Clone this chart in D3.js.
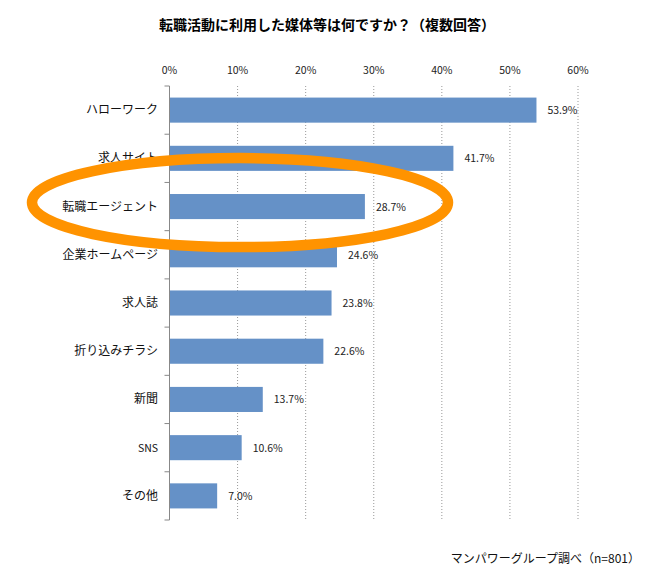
<!DOCTYPE html>
<html><head><meta charset="utf-8">
<script src="https://cdn.jsdelivr.net/npm/d3@7/dist/d3.min.js"></script>
<style>body{margin:0;background:#fff}svg{display:block}text{font-family:"Noto Sans CJK JP","DejaVu Sans",sans-serif}</style>
</head><body><svg id="c" width="656" height="582"></svg>
<script>
const categories = ["ハローワーク","求人サイト","転職エージェント","企業ホームページ","求人誌","折り込みチラシ","新聞","SNS","その他"];
const values = [53.9,41.7,28.7,24.6,23.8,22.6,13.7,10.6,7.0];
const ticks = [0,10,20,30,40,50,60];
const title = "転職活動に利用した媒体等は何ですか？（複数回答）";
const source = "マンパワーグループ調べ（n=801）";

const svg = d3.select("#c");
const x = d3.scaleLinear().domain([0,60]).range([169.5,578]);
const y = d3.scaleBand().domain(categories).range([86,520]).paddingInner(0.48).paddingOuter(0.24);
const band = (520-86)/categories.length;

svg.append("text").attr("x",327).attr("y",30).attr("text-anchor","middle")
  .attr("font-size",14).attr("font-weight","bold").text(title);

// grid
svg.append("g").selectAll("line").data(ticks.filter(t=>t>0)).join("line")
  .attr("x1",d=>x(d)).attr("x2",d=>x(d)).attr("y1",86).attr("y2",520)
  .attr("stroke","#999").attr("stroke-dasharray","1,2");

// top tick labels
svg.append("g").selectAll("text").data(ticks).join("text")
  .attr("x",d=>x(d)).attr("y",74).attr("text-anchor","middle")
  .attr("font-size",10.5).attr("fill","#222").text(d=>d+"%");

// bars
svg.append("g").selectAll("rect").data(values).join("rect")
  .attr("x",x(0)).attr("y",(d,i)=>y(categories[i])).attr("width",d=>x(d)-x(0))
  .attr("height",y.bandwidth()).attr("fill","#6591c7");

// value labels
svg.append("g").selectAll("text").data(values).join("text")
  .attr("x",d=>x(d)+11).attr("y",(d,i)=>y(categories[i])+y.bandwidth()/2+4)
  .attr("font-size",10.5).attr("fill","#222").text(d=>d.toFixed(1)+"%");

// axis line + ticks
svg.append("line").attr("x1",x(0)).attr("x2",x(0)).attr("y1",86).attr("y2",520).attr("stroke","#888");
svg.append("g").selectAll("line").data(d3.range(categories.length+1)).join("line")
  .attr("x1",x(0)-5).attr("x2",x(0)).attr("y1",i=>86+i*band).attr("y2",i=>86+i*band).attr("stroke","#888");

// category labels
svg.append("g").selectAll("text").data(categories).join("text")
  .attr("x",158).attr("y",d=>y(d)+y.bandwidth()/2+4).attr("text-anchor","end")
  .attr("font-size",d=>d==="SNS"?10.5:12).attr("fill","#111").text(d=>d);

// highlight ellipse
svg.append("ellipse").attr("cx",240).attr("cy",y("転職エージェント")+y.bandwidth()/2-4)
  .attr("rx",208).attr("ry",44.5).attr("fill","none").attr("stroke","#ff9300").attr("stroke-width",10.5);

svg.append("text").attr("x",640).attr("y",563).attr("text-anchor","end")
  .attr("font-size",12).attr("fill","#111").text(source);
</script></body></html>
